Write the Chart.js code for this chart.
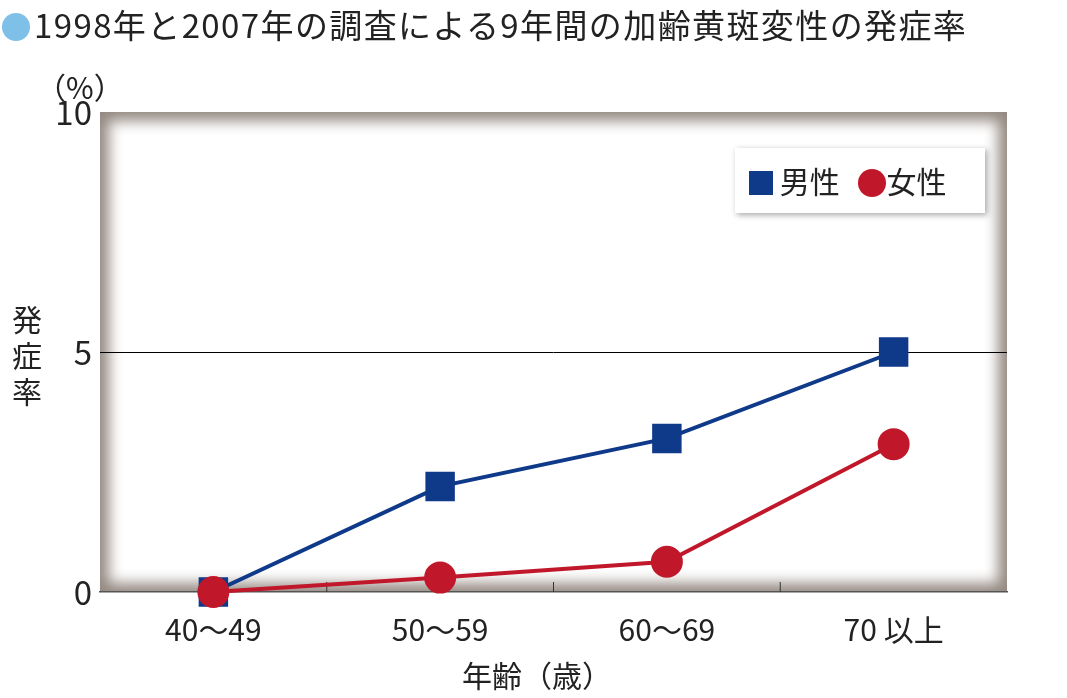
<!DOCTYPE html>
<html><head><meta charset="utf-8">
<script src="https://cdn.jsdelivr.net/npm/chart.js@4"></script>
<style>
body{margin:0;width:1067px;height:698px;background:#fff;position:relative;overflow:hidden;font-family:"Noto Sans CJK JP","Noto Sans",sans-serif;color:#222}
#c{position:absolute;left:0;top:0}
.t{position:absolute;white-space:nowrap}
</style></head><body>
<canvas id="c" width="1067" height="698"></canvas>
<div class="t" style="left:2px;top:0px;font-size:33px;letter-spacing:1.4px"><span style="display:inline-block;width:28px;height:28px;border-radius:50%;background:#7fc0e8;vertical-align:-3px;margin-right:4px"></span>1998年と2007年の調査による9年間の加齢黄斑変性の発症率</div>
<div class="t" style="left:36px;top:64px;font-size:30px;">（%）</div>
<div class="t" style="left:12px;top:300px;font-size:30px;line-height:36px;width:32px;white-space:normal">発症率</div>
<div class="t" style="left:462px;top:652px;font-size:30px;">年齢（歳）</div>
<div class="t" style="left:735px;top:148px;width:250px;height:65px;background:#fff;box-shadow:2px 2px 6px rgba(0,0,0,.35);font-size:30px;line-height:65px">
<span style="display:inline-block;width:24px;height:24px;background:#0f3a8a;margin-left:14px;vertical-align:-2px"></span> 男性
<span style="display:inline-block;width:28px;height:28px;border-radius:50%;background:#c0182a;margin-left:12px;vertical-align:-4px"></span>女性</div>
<script>
const categories=["40〜49","50〜59","60〜69","70 以上"];
const maleValues=[0,2.2,3.2,5.0];
const femaleValues=[0,0.3,0.63,3.08];
const yTicks=[0,5,10];
const frame={id:'frame',beforeDraw(ch){const a=ch.chartArea,c=ch.ctx;c.save();c.fillStyle='#958a83';c.fillRect(a.left,a.top,a.width,a.height);c.beginPath();c.rect(a.left,a.top,a.width,a.height);c.clip();c.filter='blur(7px)';c.fillStyle='#fff';c.fillRect(a.left+9,a.top+9,a.width-18,a.height-18);c.restore();},
beforeDatasetsDraw(ch){const a=ch.chartArea,c=ch.ctx,x=ch.scales.x;c.save();c.strokeStyle='#333';c.lineWidth=1;for(let i=0;i<categories.length-1;i++){const p=(x.getPixelForValue(i)+x.getPixelForValue(i+1))/2;c.beginPath();c.moveTo(p,a.bottom);c.lineTo(p,a.bottom-10);c.stroke();}c.restore();}};
new Chart(document.getElementById('c'),{type:'line',
data:{labels:categories,datasets:[
{label:'男性',data:maleValues,borderColor:'#0f3a8a',backgroundColor:'#0f3a8a',borderWidth:4,pointStyle:'rect',pointRadius:18,pointHoverRadius:18,order:1,clip:false},
{label:'女性',data:femaleValues,borderColor:'#c0182a',backgroundColor:'#c0182a',borderWidth:4,pointStyle:'circle',pointRadius:14,pointHoverRadius:14,order:0,clip:false}]},
options:{responsive:false,animation:false,layout:{padding:{top:112,right:60,left:0,bottom:0}},
plugins:{legend:{display:false},tooltip:{enabled:false}},
scales:{x:{offset:true,grid:{display:false},border:{color:'#555',width:1.5},ticks:{font:{size:30,family:'Noto Sans CJK JP'},color:'#222',padding:12},afterFit(s){s.height=106;}},
y:{min:0,max:10,afterBuildTicks(s){s.ticks=yTicks.map(v=>({value:v}));},grid:{color:c=>c.tick&&c.tick.value===5?'#000':'transparent',drawTicks:false},border:{display:false},ticks:{font:{size:33,family:'Noto Sans CJK JP'},color:'#222',padding:8},afterFit(s){s.width=100;}}}},
plugins:[frame]});
</script></body></html>
